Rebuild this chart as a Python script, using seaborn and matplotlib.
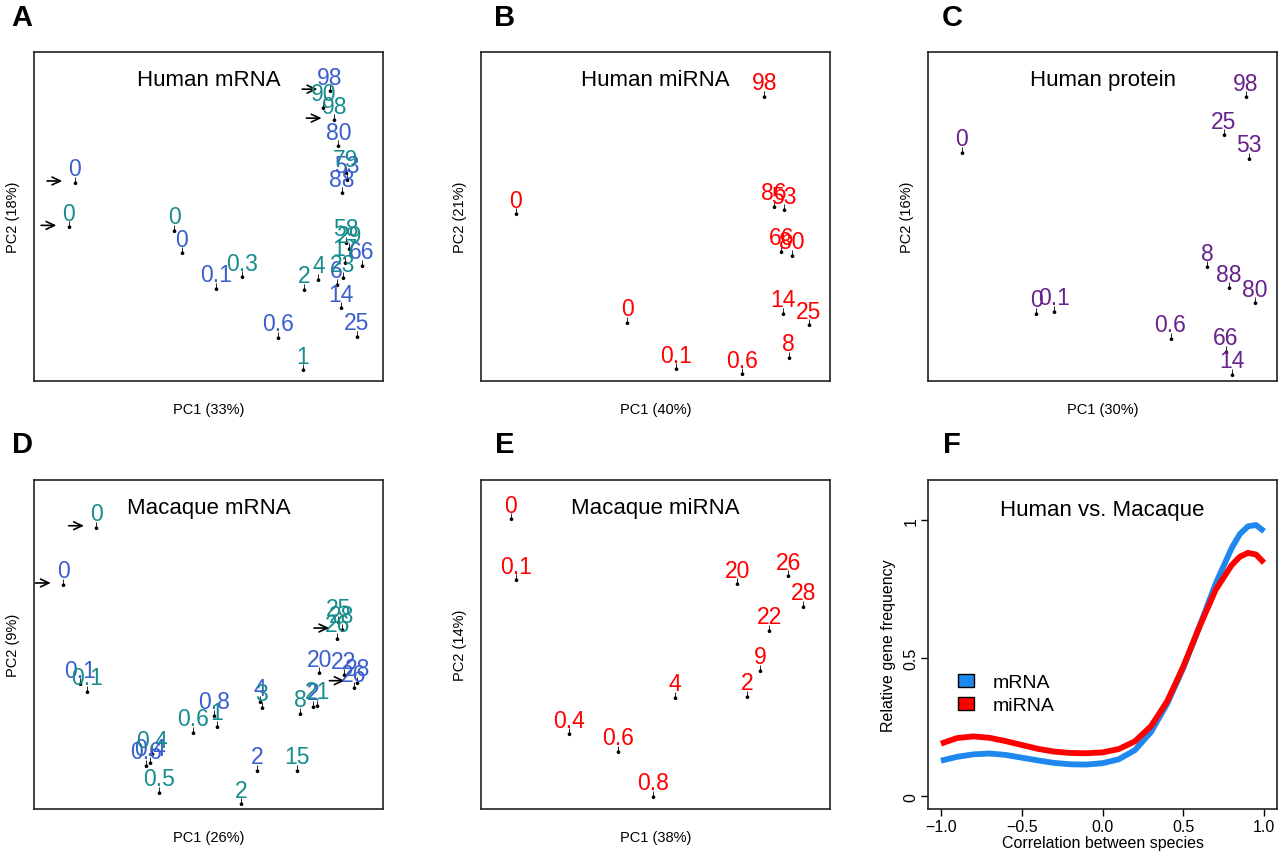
import matplotlib
matplotlib.use('Agg')
import matplotlib.pyplot as plt
from matplotlib.patches import Patch
from matplotlib.path import Path
import numpy as np
import pandas as pd
import seaborn as sns

sns.set_style('white')
plt.rcParams['font.family'] = ['Liberation Sans', 'DejaVu Sans']
for k in ['text.color', 'axes.labelcolor', 'xtick.color', 'ytick.color']:
    plt.rcParams[k] = 'black'

BLUE = '#3A5FCD'
TEAL = '#178C8C'
RED = '#FF0000'
PURPLE = '#68228B'

# A: human mRNA (two datasets, labels = age)
a_blue_lab = ['98', '80', '53', '88', '0', '0', '0.1', '0.6', '66', '6', '14', '25']
a_blue_pc1 = [84.8, 87.2, 89.6, 88.2, 11.7, 42.3, 52.1, 70.0, 93.9, 86.7, 88.0, 92.5]
a_blue_pc2 = [88.7, 72.0, 61.8, 57.7, 60.8, 39.4, 28.6, 13.8, 35.6, 29.8, 22.7, 14.0]
a_blue_arrows = [0, 4]
a_teal_lab = ['90', '98', '79', '0', '0', '0.3', '1', '2', '4', '58', '29', '17', '23']
a_teal_pc1 = [82.9, 86.0, 89.4, 10.0, 40.2, 59.5, 77.0, 77.4, 81.5, 89.4, 90.3, 89.0, 88.5]
a_teal_pc2 = [83.6, 79.9, 63.8, 47.3, 46.3, 32.1, 3.9, 28.3, 31.3, 42.7, 40.6, 36.6, 31.8]
a_teal_arrows = [1, 3]

# B: human miRNA
b_lab = ['98', '0', '86', '53', '66', '80', '14', '25', '0', '8', '0.1', '0.6']
b_pc1 = [81.2, 9.9, 84.0, 86.8, 86.0, 89.0, 86.5, 94.0, 41.9, 88.2, 55.9, 74.9]
b_pc2 = [87.0, 51.3, 53.6, 52.5, 39.9, 38.6, 21.1, 17.6, 18.3, 7.7, 4.2, 2.6]

# C: human protein
c_lab = ['98', '25', '53', '0', '8', '88', '80', '0', '0.1', '0.6', '66', '14']
c_pc1 = [91.1, 84.8, 92.0, 9.7, 80.0, 86.3, 93.7, 31.0, 36.1, 69.5, 85.3, 87.0]
c_pc2 = [86.9, 75.3, 68.2, 69.9, 35.2, 28.8, 24.2, 21.1, 21.6, 13.5, 9.5, 2.5]

# D: macaque mRNA
d_blue_lab = ['0', '0.1', '0.8', '0.6', '0.4', '4', '2', '20', '22', '28', '26', '2']
d_blue_pc1 = [8.4, 13.2, 51.6, 32.1, 33.2, 64.8, 64.0, 81.7, 88.8, 92.6, 91.7, 80.0]
d_blue_pc2 = [68.7, 38.5, 28.9, 13.7, 14.7, 33.1, 12.2, 41.9, 41.2, 39.0, 37.3, 31.6]
d_blue_arrows = [0, 9]
d_teal_lab = ['0', '0.1', '0.6', '1', '0.4', '0.5', '2', '15', '3', '8', '21', '25', '28', '26']
d_teal_pc1 = [17.9, 15.3, 45.5, 52.3, 33.7, 35.9, 59.3, 75.3, 65.2, 76.2, 81.2, 87.2, 88.2, 86.9]
d_teal_pc2 = [86.1, 36.2, 23.8, 25.6, 17.2, 5.6, 2.0, 12.2, 31.4, 29.6, 31.9, 57.3, 55.0, 52.3]
d_teal_arrows = [0, 12]

# E: macaque miRNA
e_lab = ['0', '0.1', '20', '26', '28', '22', '9', '2', '4', '0.4', '0.6', '0.8']
e_pc1 = [8.5, 10.0, 73.4, 88.0, 92.4, 82.6, 79.9, 76.3, 55.6, 25.3, 39.2, 49.4]
e_pc2 = [88.7, 70.1, 68.9, 71.4, 62.0, 54.7, 42.6, 34.7, 34.4, 23.3, 18.0, 4.3]

# F: correlation between species
corr = [-1.0, -0.9, -0.8, -0.7, -0.6, -0.5, -0.4, -0.3, -0.2, -0.1, 0.0, 0.1,
        0.2, 0.3, 0.4, 0.5, 0.6, 0.7, 0.8, 0.85, 0.9, 0.95, 1.0]
freq_mrna = [0.129, 0.143, 0.152, 0.155, 0.150, 0.140, 0.130, 0.121, 0.116, 0.115, 0.120, 0.134,
             0.167, 0.233, 0.335, 0.465, 0.615, 0.770, 0.900, 0.950, 0.978, 0.983, 0.960]
freq_mirna = [0.191, 0.211, 0.217, 0.212, 0.200, 0.186, 0.172, 0.162, 0.157, 0.156, 0.159, 0.171,
              0.199, 0.254, 0.344, 0.470, 0.614, 0.748, 0.838, 0.868, 0.882, 0.876, 0.846]


# little "pin" marker: a dot with a short stem on top
t = np.linspace(0, 2 * np.pi, 24)
circ = np.column_stack([0.32 * np.cos(t), -0.3 + 0.32 * np.sin(t)])
stem = np.array([[-0.07, -0.3], [0.07, -0.3], [0.07, 0.7], [-0.07, 0.7], [-0.07, -0.3]])
PIN = Path.make_compound_path(Path(circ, closed=True), Path(stem, closed=True))


def style_box(ax):
    for s in ax.spines.values():
        s.set_visible(True)
        s.set_color('#222222')
        s.set_linewidth(1.2)


def pc_panel(ax, series, title, xlab, ylab):
    rows = []
    for labels, pc1, pc2, color, arrows in series:
        for i, (lab, x, y) in enumerate(zip(labels, pc1, pc2)):
            rows.append(dict(pc1=x, pc2=y, label=lab, color=color, arrow=i in arrows))
    df = pd.DataFrame(rows)
    sns.scatterplot(data=df, x='pc1', y='pc2', color='black', marker=PIN,
                    s=34, linewidth=0, ax=ax, legend=False, zorder=3)
    for r in df.itertuples():
        ax.annotate(r.label, (r.pc1, r.pc2), xytext=(0, 4), textcoords='offset points',
                    ha='center', va='baseline', color=r.color, fontsize=16.5)
        if r.arrow:
            ax.annotate('', xy=(r.pc1, r.pc2), xytext=(-20, 0), textcoords='offset points',
                        arrowprops=dict(arrowstyle='->,head_length=0.6,head_width=0.28',
                                        color='black', lw=1.2, shrinkA=0, shrinkB=9))
    ax.set_xlim(0, 100)
    ax.set_ylim(0, 100)
    ax.set_xticks([])
    ax.set_yticks([])
    ax.set_xlabel(xlab, fontsize=10.5, labelpad=15)
    ax.set_ylabel(ylab, fontsize=10.5, labelpad=10)
    ax.text(0.5, 0.915, title, transform=ax.transAxes, ha='center', va='center', fontsize=16)
    style_box(ax)


fig = plt.figure(figsize=(12.8, 8.53), dpi=100)
W, H = 1280, 853
lefts = [34, 481, 928]
tops = [53, 481]
axes = []
for tp in tops:
    for l in lefts:
        axes.append(fig.add_axes([l / W, 1 - (tp + 329) / H, 349 / W, 329 / H]))

pc_panel(axes[0], [(a_blue_lab, a_blue_pc1, a_blue_pc2, BLUE, a_blue_arrows),
                   (a_teal_lab, a_teal_pc1, a_teal_pc2, TEAL, a_teal_arrows)],
         'Human mRNA', 'PC1 (33%)', 'PC2 (18%)')
pc_panel(axes[1], [(b_lab, b_pc1, b_pc2, RED, [])], 'Human miRNA', 'PC1 (40%)', 'PC2 (21%)')
pc_panel(axes[2], [(c_lab, c_pc1, c_pc2, PURPLE, [])], 'Human protein', 'PC1 (30%)', 'PC2 (16%)')
pc_panel(axes[3], [(d_blue_lab, d_blue_pc1, d_blue_pc2, BLUE, d_blue_arrows),
                   (d_teal_lab, d_teal_pc1, d_teal_pc2, TEAL, d_teal_arrows)],
         'Macaque mRNA', 'PC1 (26%)', 'PC2 (9%)')
pc_panel(axes[4], [(e_lab, e_pc1, e_pc2, RED, [])], 'Macaque miRNA', 'PC1 (38%)', 'PC2 (14%)')

# panel F
ax = axes[5]
dens = pd.DataFrame({'corr': corr * 2,
                     'freq': freq_mrna + freq_mirna,
                     'type': ['mRNA'] * len(corr) + ['miRNA'] * len(corr)})
sns.lineplot(data=dens, x='corr', y='freq', hue='type', palette={'mRNA': '#1E88EE', 'miRNA': RED},
             linewidth=4.2, ax=ax, legend=False, solid_capstyle='butt', solid_joinstyle='round')
ax.set_xlim(-1.08, 1.08)
ax.set_ylim(-0.046, 1.146)
ax.set_xticks([-1, -0.5, 0, 0.5, 1])
ax.set_xticklabels(['\u22121.0', '\u22120.5', '0.0', '0.5', '1.0'])
ax.set_yticks([0, 0.5, 1])
ax.set_yticklabels(['0', '0.5', '1'], rotation=90, va='center')
ax.tick_params(direction='out', length=5, width=1, labelsize=11.5, bottom=True, left=True, pad=2)
ax.set_xlabel('Correlation between species', fontsize=11.5, labelpad=1)
ax.set_ylabel('Relative gene frequency', fontsize=11.5, labelpad=5)
ax.text(0.5, 0.91, 'Human vs. Macaque', transform=ax.transAxes, ha='center', va='center', fontsize=16)
style_box(ax)
handles = [Patch(facecolor='#1E88EE', edgecolor='black', label='mRNA'),
           Patch(facecolor=RED, edgecolor='black', label='miRNA')]
ax.legend(handles=handles, loc='center left', bbox_to_anchor=(0.086, 0.35), frameon=False,
          fontsize=14, handlelength=0.8, handleheight=0.68, handletextpad=1.0,
          labelspacing=0.28, borderpad=0, borderaxespad=0)

for letter, x, y in [('A', 22, 18), ('B', 505, 18), ('C', 952, 18),
                     ('D', 22, 445), ('E', 505, 445), ('F', 952, 445)]:
    fig.text(x / W, 1 - y / H, letter, ha='center', va='center', fontsize=21, fontweight='bold')

fig.savefig('out.png', dpi=100)
